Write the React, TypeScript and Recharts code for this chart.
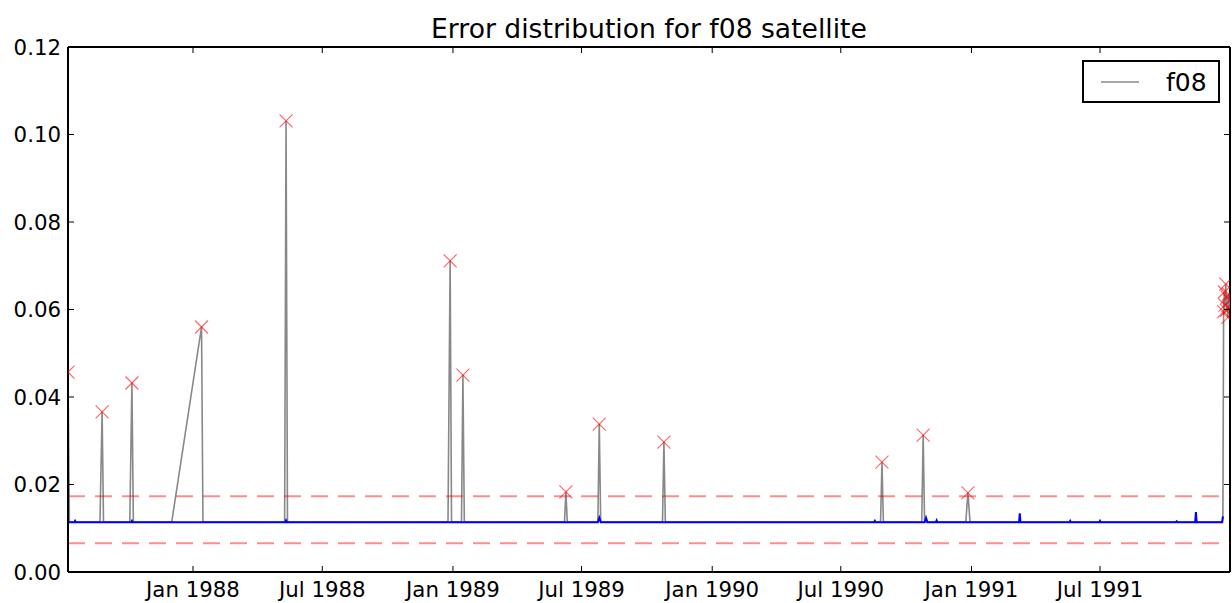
import React from 'react'
import { ComposedChart, Line, Scatter, XAxis, YAxis, ReferenceLine } from 'recharts'

// dates, values in the error units of the y axis
const grayDates = [
  '1987-07-09', '1987-07-11', '1987-08-23', '1987-08-26', '1987-08-28',
  '1987-10-04', '1987-10-07', '1987-10-09', '1987-12-02', '1988-01-13',
  '1988-01-15', '1988-05-09', '1988-05-11', '1988-05-13', '1988-12-25',
  '1988-12-28', '1988-12-30', '1989-01-13', '1989-01-15', '1989-01-17',
  '1989-06-07', '1989-06-09', '1989-06-11', '1989-07-24', '1989-07-26',
  '1989-07-28', '1989-10-23', '1989-10-25', '1989-10-27', '1990-08-26',
  '1990-08-28', '1990-08-30', '1990-10-23', '1990-10-25', '1990-10-27',
  '1990-12-24', '1990-12-27', '1990-12-30', '1991-12-20', '1991-12-21',
  '1991-12-22', '1991-12-23', '1991-12-24', '1991-12-25', '1991-12-26',
  '1991-12-27', '1991-12-28', '1991-12-29', '1991-12-30', '1991-12-31',
]
const grayValues = [
  0.0457, 0.0114, 0.0114, 0.0366, 0.0114,
  0.0114, 0.0432, 0.0114, 0.0114, 0.056,
  0.0114, 0.0114, 0.1031, 0.0114, 0.0114,
  0.0711, 0.0114, 0.0114, 0.045, 0.0114,
  0.0114, 0.0183, 0.0114, 0.0114, 0.0338,
  0.0114, 0.0114, 0.0297, 0.0114, 0.0114,
  0.0251, 0.0114, 0.0114, 0.0313, 0.0114,
  0.0114, 0.0181, 0.0114, 0.0114, 0.0125,
  0.0595, 0.064, 0.061, 0.0658, 0.0598,
  0.0628, 0.0582, 0.0635, 0.0603, 0.062,
]

const blueDates = [
  '1987-07-09', '1987-07-18', '1987-07-19', '1987-07-20', '1987-10-06',
  '1987-10-07', '1987-10-08', '1988-05-10', '1988-05-11', '1988-05-12',
  '1989-07-24', '1989-07-26', '1989-07-28', '1990-08-17', '1990-08-18',
  '1990-08-19', '1990-10-27', '1990-10-29', '1990-10-31', '1990-11-12',
  '1990-11-13', '1990-11-14', '1991-03-09', '1991-03-10', '1991-03-11',
  '1991-05-19', '1991-05-20', '1991-05-21', '1991-06-30', '1991-07-01',
  '1991-07-02', '1991-10-16', '1991-10-17', '1991-10-18', '1991-11-12',
  '1991-11-13', '1991-11-14', '1991-12-20', '1991-12-21',
]
const blueValues = [
  0.0114, 0.0114, 0.0117, 0.0114, 0.0114,
  0.0117, 0.0114, 0.0114, 0.0118, 0.0114,
  0.0114, 0.0124, 0.0114, 0.0114, 0.0117,
  0.0114, 0.0114, 0.0124, 0.0114, 0.0114,
  0.0118, 0.0114, 0.0114, 0.0134, 0.0114,
  0.0114, 0.0117, 0.0114, 0.0114, 0.0117,
  0.0114, 0.0114, 0.0116, 0.0114, 0.0114,
  0.0137, 0.0114, 0.0114, 0.0127,
]

const outlierDates = [
  '1987-07-09', '1987-08-26', '1987-10-07', '1988-01-13', '1988-05-11',
  '1988-12-28', '1989-01-15', '1989-06-09', '1989-07-26', '1989-10-25',
  '1990-08-28', '1990-10-25', '1990-12-27', '1991-12-22', '1991-12-23',
  '1991-12-24', '1991-12-25', '1991-12-26', '1991-12-27', '1991-12-28',
  '1991-12-29', '1991-12-30', '1991-12-31',
]
const outlierValues = [
  0.0457, 0.0366, 0.0432, 0.056, 0.1031,
  0.0711, 0.045, 0.0183, 0.0338, 0.0297,
  0.0251, 0.0313, 0.0181, 0.0595, 0.064,
  0.061, 0.0658, 0.0598, 0.0628, 0.0582,
  0.0635, 0.0603, 0.062,
]

const upperLimit = 0.0173
const lowerLimit = 0.0066

const tickDates = ['1988-01-01', '1988-07-01', '1989-01-01', '1989-07-01', '1990-01-01', '1990-07-01', '1991-01-01', '1991-07-01']
const yTicks = [0, 0.02, 0.04, 0.06, 0.08, 0.1, 0.12]
const MONTHS = ['Jan', 'Feb', 'Mar', 'Apr', 'May', 'Jun', 'Jul', 'Aug', 'Sep', 'Oct', 'Nov', 'Dec']

const day = (s: string) => Date.UTC(+s.slice(0, 4), +s.slice(5, 7) - 1, +s.slice(8, 10)) / 86400000

const grayData = grayDates.map((d, i) => ({ t: day(d), v: grayValues[i] }))
const blueData = blueDates.map((d, i) => ({ t: day(d), v: blueValues[i] }))
const outlierData = outlierDates.map((d, i) => ({ t: day(d), v: outlierValues[i] }))

const xStart = day(grayDates[0])
const xEnd = day(grayDates[grayDates.length - 1])

const LEFT = 68
const RIGHT = 1230
const TOP = 47
const BOTTOM = 572
const FONT = 'DejaVu Sans, sans-serif'

const fmtDate = (t: number) => {
  const d = new Date(t * 86400000)
  return `${MONTHS[d.getUTCMonth()]} ${d.getUTCFullYear()}`
}

const XTick = (props: any) => {
  const { x, payload } = props
  return (
    <g>
      <line x1={x} y1={BOTTOM} x2={x} y2={BOTTOM - 6} stroke="#000" strokeWidth={1} />
      <line x1={x} y1={TOP} x2={x} y2={TOP + 6} stroke="#000" strokeWidth={1} />
      <text x={x} y={597} textAnchor="middle" fontFamily={FONT} fontSize={21.3} fill="#000">
        {fmtDate(payload.value)}
      </text>
    </g>
  )
}

const YTick = (props: any) => {
  const { y, payload } = props
  return (
    <g>
      <line x1={LEFT} y1={y} x2={LEFT + 6} y2={y} stroke="#000" strokeWidth={1} />
      <line x1={RIGHT} y1={y} x2={RIGHT - 6} y2={y} stroke="#000" strokeWidth={1} />
      <text x={61} y={y} dy="0.36em" textAnchor="end" fontFamily={FONT} fontSize={21.3} fill="#000">
        {payload.value.toFixed(2)}
      </text>
    </g>
  )
}

const XMark = (props: any) => {
  const { cx, cy } = props
  const r = 6.5
  return (
    <g stroke="#ff0000" strokeOpacity={0.6} strokeWidth={1.2}>
      <line x1={cx - r} y1={cy - r} x2={cx + r} y2={cy + r} />
      <line x1={cx - r} y1={cy + r} x2={cx + r} y2={cy - r} />
    </g>
  )
}

export default function App() {
  return (
    <div style={{ position: 'absolute', left: 0, top: 0, background: '#fff' }}>
      <ComposedChart width={1232} height={603} margin={{ top: TOP, right: 2, bottom: 0, left: 8 }}>
        <XAxis
          type="number"
          dataKey="t"
          domain={[xStart, xEnd]}
          allowDataOverflow
          ticks={tickDates.map(day)}
          tick={<XTick />}
          tickLine={false}
          axisLine={{ stroke: '#000', strokeWidth: 2 }}
          height={31}
          interval={0}
        />
        <YAxis
          type="number"
          domain={[0, 0.12]}
          allowDataOverflow
          ticks={yTicks}
          tick={<YTick />}
          tickLine={false}
          axisLine={{ stroke: '#000', strokeWidth: 2 }}
          width={60}
          interval={0}
        />
        <ReferenceLine y={0.12} stroke="#000" strokeWidth={2} />
        <ReferenceLine x={xEnd} stroke="#000" strokeWidth={2} />
        <Line
          data={grayData}
          dataKey="v"
          stroke="#888888"
          strokeWidth={1.6}
          dot={false}
          activeDot={false}
          isAnimationActive={false}
        />
        <Line
          data={blueData}
          dataKey="v"
          stroke="#0000ff"
          strokeWidth={2}
          dot={false}
          activeDot={false}
          isAnimationActive={false}
        />
        <ReferenceLine y={upperLimit} stroke="#ff0000" strokeOpacity={0.45} strokeWidth={2} strokeDasharray="17 10" />
        <ReferenceLine y={lowerLimit} stroke="#ff0000" strokeOpacity={0.45} strokeWidth={2} strokeDasharray="17 10" />
        <Scatter data={outlierData} dataKey="v" shape={<XMark />} isAnimationActive={false} />
        <text x={(LEFT + RIGHT) / 2} y={38} textAnchor="middle" fontFamily={FONT} fontSize={26.6} fill="#000">
          Error distribution for f08 satellite
        </text>
        <g>
          <rect x={1083} y={61} width={136} height={41} fill="#fff" stroke="#000" strokeWidth={2} />
          <line x1={1101} y1={82} x2={1139} y2={82} stroke="#888888" strokeWidth={1.6} />
          <text x={1166} y={91} fontFamily={FONT} fontSize={25} fill="#000">
            f08
          </text>
        </g>
      </ComposedChart>
    </div>
  )
}
